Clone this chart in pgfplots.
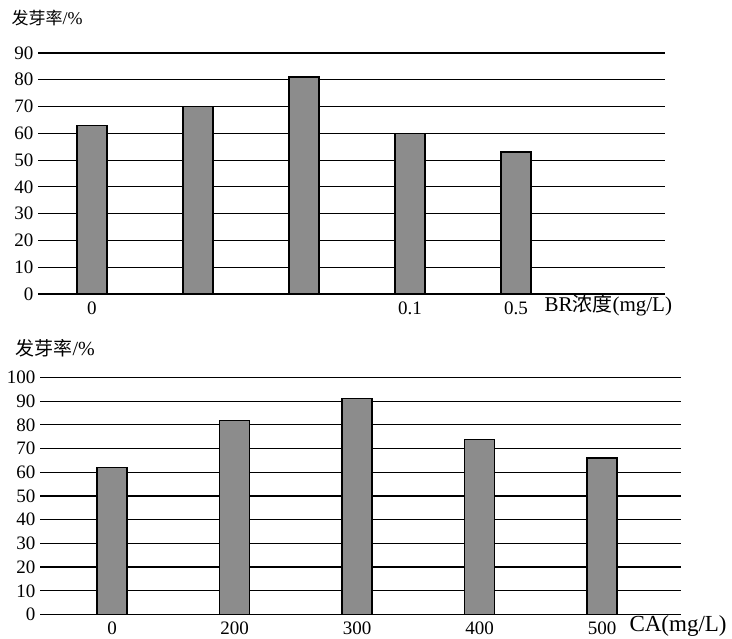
\documentclass[border=0pt]{standalone}
\usepackage{pgfplots}
\pgfplotsset{compat=1.18}
\usepackage{fontspec}
\setmainfont{Liberation Serif}
\newfontfamily\cjk{Noto Sans CJK SC}
\begin{document}
\begin{tikzpicture}
\path[use as bounding box] (0pt,0pt) rectangle (732pt,639pt);
\pgfplotsset{
  mystyle/.style={
    anchor=south west, scale only axis,
    ymin=0, ymajorgrids,
    grid style={black, line width=1.2pt},
    axis line style={draw=none},
    major tick length=0pt,
    xtick={0,1,2,3,4},
    ticklabel style={font=\fontsize{19}{19}\selectfont},
    /pgf/number format/assume math mode=true,
    clip=false, ybar, bar width=30pt,
    yticklabel style={xshift=-1pt},
    xticklabel style={yshift=-4pt},
  }
}
\begin{axis}[mystyle, at={(38pt,345pt)}, width=627pt, height=241pt,
  xmin=-0.509, xmax=5.406, ymax=90, ytick={0,10,...,90},
  xticklabels={0,,,0.1,0.5}]
\addplot[fill=black!45, draw=black, line width=1.2pt] coordinates {(0,63)(1,70)(2,81)(3,60)(4,53)};
\end{axis}
\begin{axis}[mystyle, at={(40pt,24.5pt)}, width=641pt, height=237pt,
  xmin=-0.588, xmax=4.645, ymax=100, ytick={0,10,...,100},
  xticklabels={0,200,300,400,500}]
\addplot[fill=black!45, draw=black, line width=1.2pt] coordinates {(0,62)(1,82)(2,91)(3,74)(4,66)};
\end{axis}
\node[anchor=west, font=\fontsize{18}{18}\selectfont] at (8pt,621pt) {{\cjk\fontsize{17}{17}\selectfont 发芽率}/\%};
\node[anchor=west, font=\fontsize{20}{20}\selectfont] at (12pt,291pt) {{\cjk\fontsize{19}{19}\selectfont 发芽率}/\%};
\node[anchor=west, font=\fontsize{21}{21}\selectfont] at (541pt,334pt) {BR{\cjk\fontsize{20}{20}\selectfont 浓度}(mg/L)};
\node[anchor=west, font=\fontsize{23}{23}\selectfont] at (626pt,13pt) {CA(mg/L)};
\end{tikzpicture}
\end{document}
